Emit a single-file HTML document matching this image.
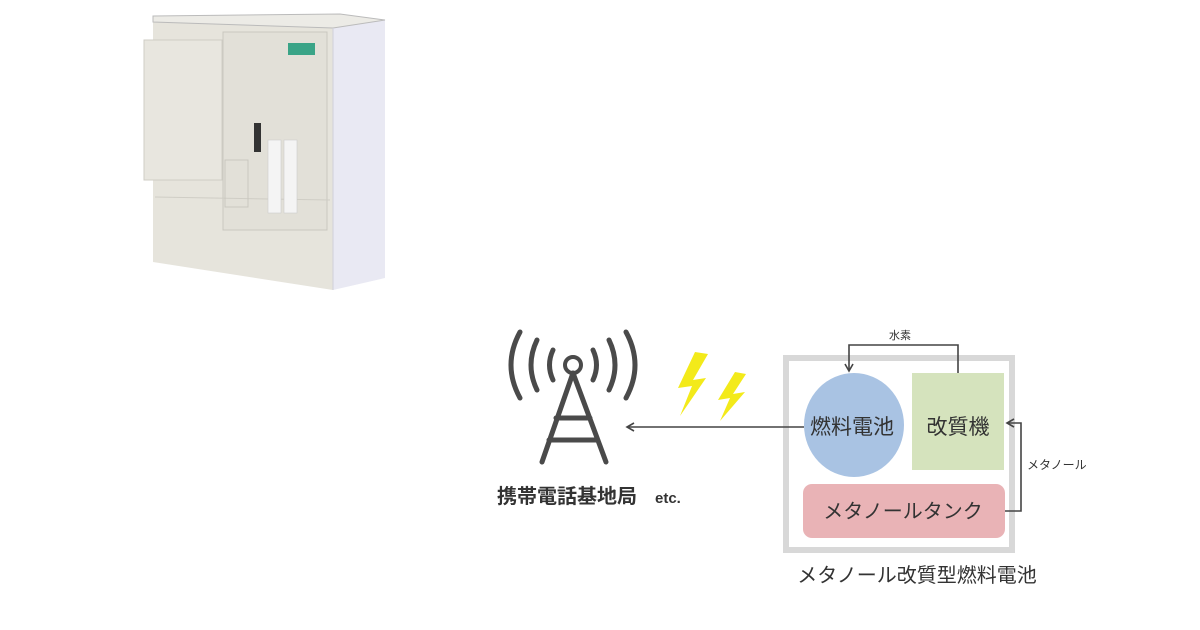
<!DOCTYPE html>
<html><head><meta charset="utf-8"><style>
html,body{margin:0;padding:0;background:#fff;width:1200px;height:630px;overflow:hidden}
svg{display:block}
text{font-family:"Liberation Sans","Noto Sans CJK JP",sans-serif}
</style></head><body>
<svg width="1200" height="630" viewBox="0 0 1200 630" xmlns="http://www.w3.org/2000/svg">
<defs>
<marker id="ah" markerWidth="10" markerHeight="10" refX="8" refY="5" orient="auto" markerUnits="userSpaceOnUse">
<path d="M1,1 L8,5 L1,9" fill="none" stroke="#444" stroke-width="1.6"/></marker>
</defs>
<!-- cabinet -->
<polygon points="333,28 385,20 385,278 333,290" fill="#e9e9f3"/>
<polygon points="153,22 333,28 333,290 153,262" fill="#e6e4dc"/>
<polygon points="153,16 340,14 385,20 333,28 153,22" fill="#ecebe6" stroke="#bbb" stroke-width="1"/>
<rect x="223" y="32" width="104" height="198" fill="#e2e0d8" stroke="#c9c7bf"/>
<line x1="155" y1="197" x2="330" y2="200" stroke="#cfcdc5"/>
<rect x="144" y="40" width="78" height="140" fill="#e8e6df" stroke="#cfcdc5"/>
<rect x="288" y="43" width="27" height="12" fill="#3aa487"/>
<rect x="254" y="123" width="7" height="29" fill="#333"/>
<g fill="#f4f4f4" stroke="#ccc" stroke-width="0.6">
<rect x="268" y="140" width="13" height="73"/><rect x="284" y="140" width="13" height="73"/></g>
<rect x="225" y="160" width="23" height="47" fill="none" stroke="#c9c7bf"/>
<line x1="333" y1="28" x2="333" y2="290" stroke="#d0d0da"/>
<!-- tower -->
<g fill="none" stroke="#4a4a4a" stroke-width="5" stroke-linecap="round">
<circle cx="573" cy="365" r="8" stroke-width="4"/>
<path d="M573,373 L542,462 M573,373 L606,462 M556,418 L590,418 M549,440 L597,440"/>
<path d="M553,350 Q546,365 553,380"/><path d="M593,350 Q600,365 593,380"/>
<path d="M537,340 Q525,365 537,390"/><path d="M609,340 Q621,365 609,390"/>
<path d="M520,332 Q502,365 520,398"/><path d="M626,332 Q644,365 626,398"/>
</g>
<text x="497" y="503" font-size="20" font-weight="bold" fill="#333">携帯電話基地局</text>
<text x="655" y="503" font-size="15" font-weight="bold" fill="#333">etc.</text>
<!-- lightning -->
<polygon points="695,352 678,388 692,386 680,416 706,378 693,380 708,354" fill="#f3ea1a"/>
<polygon points="735,372 718,400 730,398 720,421 745,392 733,394 746,374" fill="#f3ea1a"/>
<!-- box -->
<rect x="786" y="358" width="226" height="192" fill="none" stroke="#d8d8d8" stroke-width="6"/>
<ellipse cx="854" cy="425" rx="50" ry="52" fill="#a9c3e3"/>
<rect x="912" y="373" width="92" height="97" fill="#d5e3bd"/>
<rect x="803" y="484" width="202" height="54" rx="9" fill="#e9b3b6"/>
<text x="852" y="434" font-size="21" text-anchor="middle" fill="#333">燃料電池</text>
<text x="958" y="434" font-size="21" text-anchor="middle" fill="#333">改質機</text>
<text x="903" y="518" font-size="20" text-anchor="middle" fill="#333">メタノールタンク</text>
<!-- arrows -->
<g fill="none" stroke="#444" stroke-width="1.6">
<polyline points="804,427 627,427" marker-end="url(#ah)"/>
<polyline points="958,373 958,345 849,345 849,371" marker-end="url(#ah)"/>
<polyline points="1005,511 1021,511 1021,423 1007,423" marker-end="url(#ah)"/>
</g>
<text x="900" y="339" font-size="11" text-anchor="middle" fill="#333">水素</text>
<text x="1027" y="469" font-size="12" fill="#333">メタノール</text>
<text x="917" y="582" font-size="20" text-anchor="middle" fill="#333">メタノール改質型燃料電池</text>
</svg>
</body></html>
